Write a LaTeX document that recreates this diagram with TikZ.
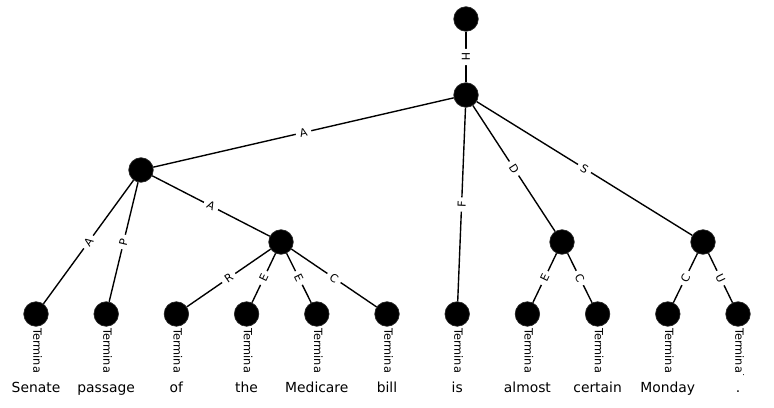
\documentclass[tikz,border=0pt]{standalone}
\usepackage{fontspec}
\setmainfont{DejaVu Sans}
\begin{document}
\begin{tikzpicture}[x=0.75pt,y=-0.75pt,
  vertex/.style={circle,fill=black,draw=black!85,line width=0.5pt,minimum size=18.4pt,inner sep=0pt},
  link/.style={draw=black,line width=1.04pt},
  elabel/.style={fill=white,font=\fontsize{8.3}{10}\selectfont,inner xsep=3pt,inner ysep=1pt,rounded corners=2pt,midway,sloped},
  termtag/.style={rotate=-90,anchor=west,inner sep=0pt,font=\fontsize{8.5}{10}\selectfont},
  word/.style={anchor=base,fill=white,inner xsep=2pt,inner ysep=3.2pt,text height=1em,text depth=0.25em,font=\fontsize{10.4}{12}\selectfont}]
\useasboundingbox (0,0) rectangle (774,407);

% inner nodes
\node[vertex] (root) at (466,19) {};
\node[vertex] (h) at (466,95) {};
\node[vertex] (a) at (141,170) {};
\node[vertex] (a2) at (281,242) {};
\node[vertex] (d) at (562,242) {};
\node[vertex] (s) at (703,242) {};

% terminal nodes with their rotated tags
\foreach \i in {0,...,10} {
  \node[vertex] (t\i) at ({36+70.2*\i},314) {};
  \node[termtag] (tag\i) at ({37.5+70.2*\i},328) {Terminal};
}

% words below the terminals
\foreach \i/\w in {0/Senate,1/passage,2/of,3/the,4/Medicare,5/bill,6/is,7/almost,8/certain,9/Monday,10/.} {
  \node[word] (w\i) at ({36+70.2*\i},392) {\w};
}

% labelled edges
\draw[link] (root) -- node[elabel]{H} (h);
\draw[link] (h) -- node[elabel]{A} (a);
\draw[link] (h) -- node[elabel]{F} (t6);
\draw[link] (h) -- node[elabel]{D} (d);
\draw[link] (h) -- node[elabel]{S} (s);
\draw[link] (a) -- node[elabel]{A} (t0);
\draw[link] (a) -- node[elabel]{P} (t1);
\draw[link] (a) -- node[elabel]{A} (a2);
\draw[link] (a2) -- node[elabel]{R} (t2);
\draw[link] (a2) -- node[elabel]{E} (t3);
\draw[link] (a2) -- node[elabel]{E} (t4);
\draw[link] (a2) -- node[elabel]{C} (t5);
\draw[link] (d) -- node[elabel]{E} (t7);
\draw[link] (d) -- node[elabel]{C} (t8);
\draw[link] (s) -- node[elabel]{C} (t9);
\draw[link] (s) -- node[elabel]{U} (t10);
\end{tikzpicture}
\end{document}
